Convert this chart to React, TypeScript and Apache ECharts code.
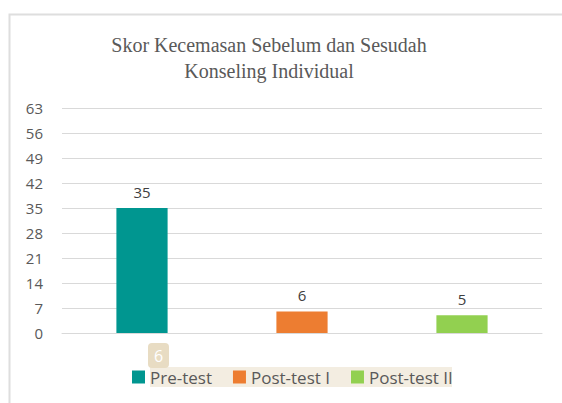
import React, { useEffect, useRef } from "react";
import * as echarts from "echarts";

const categories = ["Pre-test", "Post-test I", "Post-test II"];
const seriesNames = ["Pre-test", "Post-test I", "Post-test II"];
const values = [35, 6, 5];
const colors = ["#009690", "#ed7d31", "#92d050"];
const titleLines = ["Skor Kecemasan Sebelum dan Sesudah", "Konseling Individual"];
const yMin = 0;
const yMax = 63;
const yInterval = 7;
const badgeText = "6";

export default function App() {
  const ref = useRef<HTMLDivElement>(null);
  useEffect(() => {
    if (!ref.current) return;
    const chart = echarts.init(ref.current, null, { renderer: "svg" });
    const font = "'Open Sans', sans-serif";
    const series = seriesNames.map((name, i) => ({
      name,
      type: "bar",
      stack: "all",
      barWidth: "32%",
      itemStyle: { color: colors[i] },
      label: {
        show: true,
        position: "top",
        distance: 9,
        color: "#404040",
        fontSize: 15,
        fontFamily: font,
      },
      data: categories.map((_, j) => (j === i ? values[i] : "-")),
    }));
    chart.setOption({
      animation: false,
      backgroundColor: "#ffffff",
      grid: { left: 62, right: 20, top: 108, bottom: 70 },
      xAxis: {
        type: "category",
        data: categories,
        axisLine: { show: true, lineStyle: { color: "#d9d9d9", width: 1 } },
        axisTick: { show: false },
        axisLabel: { show: false },
      },
      yAxis: {
        type: "value",
        min: yMin,
        max: yMax,
        interval: yInterval,
        axisLine: { show: false },
        axisTick: { show: false },
        axisLabel: { color: "#595959", fontSize: 15, fontFamily: font, margin: 19 },
        splitLine: { lineStyle: { color: "#d9d9d9", width: 1 } },
      },
      legend: {
        data: seriesNames,
        left: 132,
        top: 368,
        padding: 0,
        itemWidth: 13,
        itemHeight: 13,
        itemGap: 21,
        icon: "rect",
        textStyle: { color: "#595959", fontSize: 17, lineHeight: 18, fontFamily: font },
      },
      graphic: [
        {
          type: "rect",
          z: -10,
          silent: true,
          shape: { x: 9.5, y: 14.5, width: 700, height: 600 },
          style: { fill: "none", stroke: "#dedede", lineWidth: 2 },
        },
        {
          type: "rect",
          z: -5,
          silent: true,
          shape: { x: 150, y: 367, width: 302, height: 20 },
          style: { fill: "#f3ede1" },
        },
        {
          type: "rect",
          silent: true,
          shape: { x: 148, y: 343, width: 21, height: 25, r: 4 },
          style: { fill: "#e8dcc3" },
        },
        {
          type: "text",
          silent: true,
          x: 158.5,
          y: 355.5,
          style: {
            text: badgeText,
            fill: "#ffffff",
            fontSize: 16,
            fontFamily: font,
            textAlign: "center",
            textVerticalAlign: "middle",
          },
        },
        {
          type: "text",
          silent: true,
          x: 269,
          y: 32,
          style: {
            text: titleLines.join("\n"),
            fill: "#595959",
            fontSize: 20,
            lineHeight: 26,
            fontFamily: "'Liberation Serif', 'Times New Roman', serif",
            textAlign: "center",
            textVerticalAlign: "top",
          },
        },
      ],
      series,
    });
    return () => chart.dispose();
  }, []);
  return (
    <div
      ref={ref}
      style={{ position: "fixed", left: 0, top: 0, width: 562, height: 403 }}
    />
  );
}
